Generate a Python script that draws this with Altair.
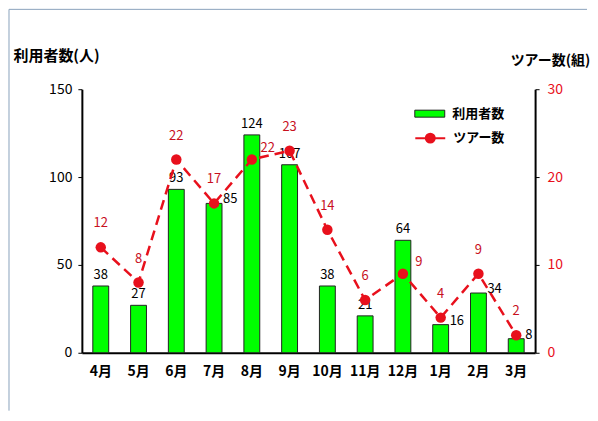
import altair as alt
import pandas as pd

months = ["4月", "5月", "6月", "7月", "8月", "9月", "10月", "11月", "12月", "1月", "2月", "3月"]
users = [38, 27, 93, 85, 124, 107, 38, 21, 64, 16, 34, 8]
tours = [12, 8, 22, 17, 22, 23, 14, 6, 9, 4, 9, 2]
bar_name = "利用者数"
line_name = "ツアー数"
# where each value label sits relative to its mark, as in the reference
bar_label_side = ["top", "top", "top", "right", "top", "top", "top", "top", "top", "right", "right", "right"]
line_label_side = ["top", "top", "top", "top", "right", "top", "top", "top", "right", "top", "top", "top"]

df = pd.DataFrame({"month": months, "users": users, "tours": tours,
                   "bside": bar_label_side, "lside": line_label_side})
df["s1"] = bar_name
df["s2"] = line_name

FONT = "Noto Sans CJK JP"
RED = "#e8101c"
LABEL_RED = "#c8101e"
FRAME = "#8aa2bc"

xenc = alt.X(
    "month:N",
    sort=months,
    title=None,
    scale=alt.Scale(paddingInner=0.58, paddingOuter=0.29),
    axis=alt.Axis(labelAngle=0, labelFontSize=14, labelFontWeight="bold", labelColor="black",
                  domainColor="black", domainWidth=2, ticks=False, labelPadding=12,
                  labelFont=FONT),
)

y_left = alt.Y(
    "users:Q",
    scale=alt.Scale(domain=[0, 150], nice=False),
    axis=alt.Axis(values=[0, 50, 100, 150], orient="left", title="利用者数(人)", titleAngle=0,
                  titleAlign="left", titleBaseline="middle", titleX=-69, titleY=-34,
                  titleFontSize=15, titleFontWeight="bold", titleFont=FONT,
                  labelFontSize=14, labelColor="black", labelFont=FONT, labelPadding=6,
                  domainColor="black", domainWidth=2, tickColor="black", tickSize=4,
                  grid=False),
)

y_right = alt.Y(
    "tours:Q",
    scale=alt.Scale(domain=[0, 30], nice=False),
    axis=alt.Axis(values=[0, 10, 20, 30], orient="right", title="ツアー数(組)", titleAngle=0,
                  titleAlign="left", titleBaseline="middle", titleX=-25, titleY=-29,
                  titleFontSize=14, titleFontWeight="bold", titleFont=FONT,
                  labelFontSize=14, labelColor=RED, labelFont=FONT, labelPadding=8,
                  domainColor="black", domainWidth=2, tickColor="black", tickSize=4,
                  grid=False),
)

base_left = alt.Chart(df).encode(x=xenc, y=y_left)
base_right = alt.Chart(df).encode(x=xenc, y=y_right)

bars = base_left.mark_bar(stroke="#222222", strokeWidth=1).encode(
    fill=alt.Fill("s1:N", scale=alt.Scale(range=["#00ff00"]),
                  legend=alt.Legend(title=None, orient="none", legendX=338, legendY=14,
                                    symbolType="M-1.5,-0.35H1.5V0.35H-1.5Z", symbolSize=400,
                                    symbolStrokeColor="#222222", symbolStrokeWidth=1,
                                    labelFontSize=13, labelFontWeight="bold", labelFont=FONT,
                                    labelColor="black", labelOffset=12)),
)

bar_labels_top = base_left.mark_text(dy=-11, fontSize=13, font=FONT, color="black").encode(
    text="users:Q",
).transform_filter(alt.datum.bside == "top")

bar_labels_right = base_left.mark_text(dx=9, dy=-4, align="left", fontSize=13, font=FONT,
                                       color="black").encode(
    text="users:Q",
).transform_filter(alt.datum.bside == "right")

left = alt.layer(bars, bar_labels_top, bar_labels_right)

line = base_right.mark_line(strokeDash=[10, 6], strokeWidth=2.5).encode(
    stroke=alt.Stroke("s2:N", scale=alt.Scale(range=[RED]),
                      legend=alt.Legend(title=None, orient="none", legendX=338, legendY=38,
                                        symbolType="M-1.5,0H1.5M-0.45,0A0.45,0.45 0 1,1 0.45,0A0.45,0.45 0 1,1 -0.45,0",
                                        symbolSize=400, symbolFillColor=RED, symbolStrokeWidth=2,
                                        labelFontSize=13, labelFontWeight="bold", labelFont=FONT,
                                        labelColor="black", labelOffset=12)),
)

points = base_right.mark_circle(size=110, color=RED, opacity=1)

line_labels_top = base_right.mark_text(dy=-24, fontSize=13, font=FONT, color=LABEL_RED).encode(
    text="tours:Q",
).transform_filter(alt.datum.lside == "top")

line_labels_right = base_right.mark_text(dx=16, dy=-12, fontSize=13, font=FONT,
                                         color=LABEL_RED).encode(
    text="tours:Q",
).transform_filter(alt.datum.lside == "right")

right = alt.layer(line, points, line_labels_top, line_labels_right)

# thin picture frame at the top-left, as in the reference
frame_df = pd.DataFrame({"k": [0]})
frame_left = alt.Chart(frame_df).mark_rule(color=FRAME, strokeWidth=1).encode(
    x=alt.value(-73), y=alt.value(-80), y2=alt.value(322))
frame_top = alt.Chart(frame_df).mark_rule(color=FRAME, strokeWidth=1).encode(
    x=alt.value(-73), x2=alt.value(506), y=alt.value(-80))

chart = (
    alt.layer(frame_left, frame_top, left, right)
    .resolve_scale(y="independent", fill="independent", stroke="independent")
    .properties(width=454, height=264, padding={"top": 0, "left": 0, "right": 0, "bottom": 5},
                background="white")
    .configure_view(stroke=None)
)

chart.save("out.html", embed_options={"renderer": "svg", "actions": False})
